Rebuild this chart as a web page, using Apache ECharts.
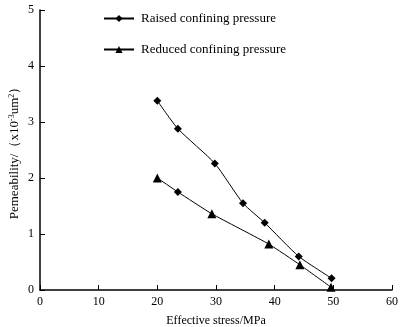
<!DOCTYPE html>
<html>
<head>
<meta charset="utf-8">
<script src="https://cdn.jsdelivr.net/npm/echarts@6/dist/echarts.min.js"></script>
<style>
html,body{margin:0;padding:0;background:#fff;}
#chart{width:403px;height:327px;}
</style>
</head>
<body>
<div id="chart"></div>
<script>
// 数据
var raisedX = [20, 23.5, 29.8, 34.6, 38.3, 44.1, 49.7];
var raisedY = [3.38, 2.88, 2.26, 1.55, 1.2, 0.6, 0.21];
var reducedX = [20, 23.5, 29.3, 39.0, 44.3, 49.6];
var reducedY = [2.0, 1.75, 1.36, 0.82, 0.45, 0.05];
var reducedSymbols = ['triangle', 'diamond', 'triangle', 'triangle', 'triangle', 'triangle'];
var legendNames = ['Raised confining pressure', 'Reduced confining pressure'];

var font = 'Liberation Serif';
var chart = echarts.init(document.getElementById('chart'));

function pairs(xs, ys){
    return xs.map(function(x, i){ return [x, ys[i]]; });
}

var option = {
    animation: false,
    backgroundColor: '#fff',
    textStyle: { fontFamily: font, color: '#000' },
    grid: { left: 40, right: 11, top: 10, bottom: 37, outerBoundsMode: 'none' },
    legend: {
        orient: 'vertical',
        left: 98,
        top: 7,
        itemGap: 18,
        itemWidth: 30,
        itemHeight: 9,
        textStyle: { fontFamily: font, fontSize: 13, color: '#000', padding: [0, 0, 0, 2] },
        data: legendNames
    },
    xAxis: {
        type: 'value',
        min: 0, max: 60, interval: 10,
        name: 'Effective stress/MPa',
        nameLocation: 'middle',
        nameGap: 25,
        nameMoveOverlap: false,
        nameTextStyle: { fontFamily: font, fontSize: 12, color: '#000' },
        axisLine: { onZero: false, lineStyle: { color: '#000', width: 1.5 } },
        axisTick: { inside: true, length: 5, lineStyle: { color: '#000' } },
        axisLabel: { fontFamily: font, fontSize: 12, color: '#000', margin: 6 },
        splitLine: { show: false }
    },
    yAxis: {
        type: 'value',
        min: 0, max: 5, interval: 1,
        name: '{a|Pemeability/（x10}{s|-3}{a|um}{s|2}{a|）}',
        nameLocation: 'middle',
        nameGap: 18,
        nameMoveOverlap: false,
        nameTextStyle: {
            rich: {
                a: { fontFamily: font, fontSize: 13, color: '#000' },
                s: { fontFamily: font, fontSize: 8, color: '#000', verticalAlign: 'top', padding: [0, 0, 6, 0] }
            }
        },
        axisLine: { onZero: false, lineStyle: { color: '#000', width: 1.5 } },
        axisTick: { inside: true, length: 5, lineStyle: { color: '#000' } },
        axisLabel: { fontFamily: font, fontSize: 12, color: '#000', margin: 6 },
        splitLine: { show: false }
    },
    series: [
        {
            name: legendNames[0],
            type: 'line',
            smooth: 0.2,
            symbol: 'diamond',
            symbolSize: 8,
            itemStyle: { color: '#000' },
            lineStyle: { color: '#000', width: 1 },
            data: pairs(raisedX, raisedY)
        },
        {
            name: legendNames[1],
            type: 'line',
            smooth: 0.15,
            symbol: 'triangle',
            symbolSize: 9,
            itemStyle: { color: '#000' },
            lineStyle: { color: '#000', width: 1 },
            data: pairs(reducedX, reducedY).map(function(p, i){
                return { value: p, symbol: reducedSymbols[i], symbolSize: reducedSymbols[i] == 'diamond' ? 8 : 9 };
            })
        }
    ]
};
chart.setOption(option);
</script>
</body>
</html>
